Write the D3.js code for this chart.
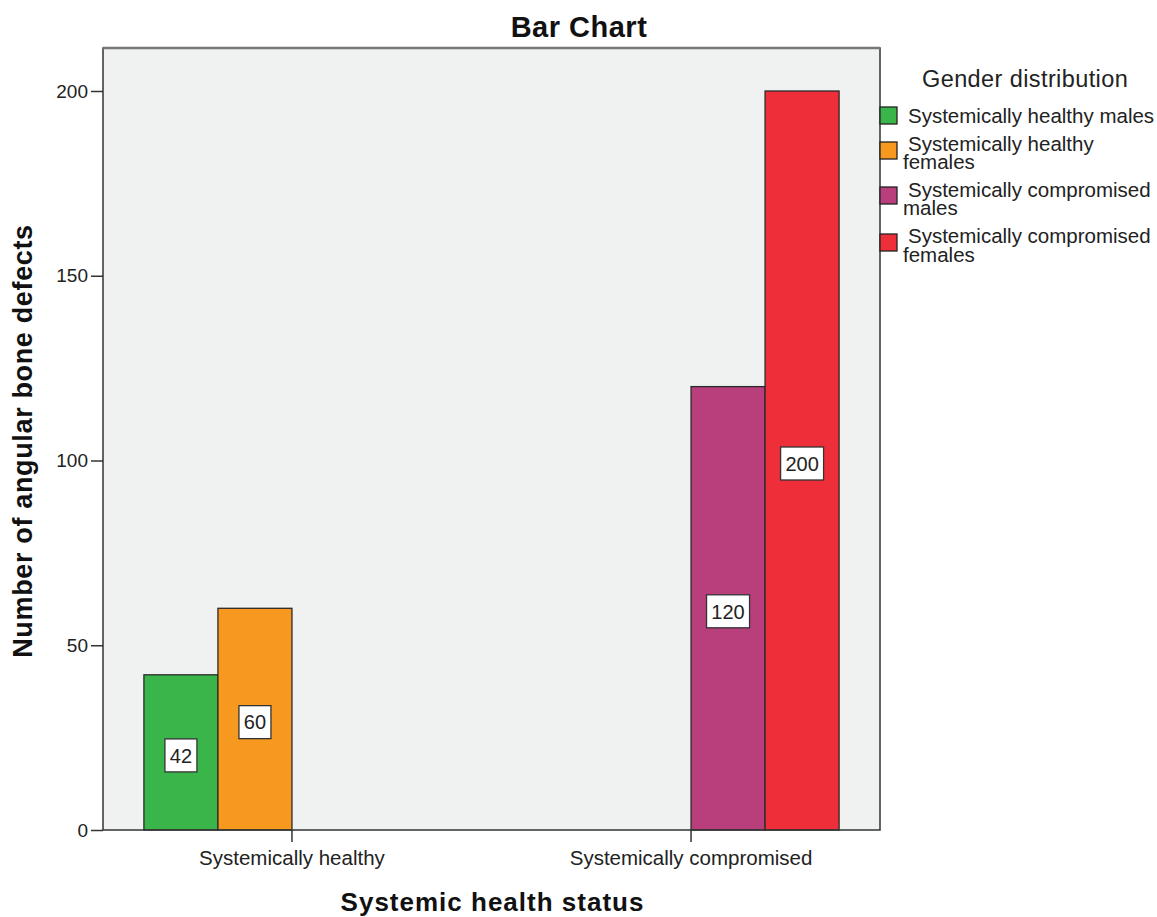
<!DOCTYPE html>
<html>
<head>
<meta charset="utf-8">
<script src="https://cdn.jsdelivr.net/npm/d3@7"></script>
<style>
  html, body { margin: 0; padding: 0; background: #fff; }
  text { font-family: "Liberation Sans", Arial, sans-serif; fill: #222; }
</style>
</head>
<body>
<svg id="chart" width="1157" height="917"></svg>
<script>
// Categories on the x axis
const categories = ["Systemically healthy", "Systemically compromised"];
// Legend groups (one slot per group inside each category)
const groups = [
  "Systemically healthy males",
  "Systemically healthy females",
  "Systemically compromised males",
  "Systemically compromised females"
];
// Legend labels as wrapped lines
const groupLines = [
  ["Systemically healthy males"],
  ["Systemically healthy", "females"],
  ["Systemically compromised", "males"],
  ["Systemically compromised", "females"]
];
const groupColors = ["#3ab54a", "#f7991f", "#b93e7c", "#ee2f39"];
// Counts: category, group, value
const barCategory = ["Systemically healthy", "Systemically healthy", "Systemically compromised", "Systemically compromised"];
const barGroup = ["Systemically healthy males", "Systemically healthy females", "Systemically compromised males", "Systemically compromised females"];
const barValue = [42, 60, 120, 200];
const yTicks = [0, 50, 100, 150, 200];

const FONT = "Liberation Sans, Arial, sans-serif";
const svg = d3.select("#chart");
const plot = { left: 103, top: 48, right: 880, bottom: 830 };

const x = d3.scaleBand().domain(categories)
  .range([plot.left, plot.right]).paddingInner(0.258).paddingOuter(0.1025);
const xSub = d3.scaleBand().domain(groups).range([0, x.bandwidth()]).padding(0);
const y = d3.scaleLinear().domain([0, 200]).range([plot.bottom, 91]);
const color = d3.scaleOrdinal().domain(groups).range(groupColors);

// Plot background
svg.append("rect")
  .attr("x", plot.left).attr("y", plot.top)
  .attr("width", plot.right - plot.left).attr("height", plot.bottom - plot.top)
  .attr("fill", "#f0f1f1");

// Bars
const bars = barValue.map((v, i) => ({ cat: barCategory[i], grp: barGroup[i], v }));
svg.append("g").selectAll("rect").data(bars).join("rect")
  .attr("x", d => x(d.cat) + xSub(d.grp))
  .attr("y", d => y(d.v))
  .attr("width", xSub.bandwidth())
  .attr("height", d => y(0) - y(d.v))
  .attr("fill", d => color(d.grp))
  .attr("stroke", "#2a2a2a").attr("stroke-width", 1.3);

// Value labels in boxes at mid-height of each bar
const lab = svg.append("g").selectAll("g").data(bars).join("g")
  .attr("transform", d => `translate(${x(d.cat) + xSub(d.grp) + xSub.bandwidth() / 2},${y(d.v / 2) + 3})`);
lab.append("rect")
  .attr("x", d => -(String(d.v).length * 11 + 10) / 2)
  .attr("y", -16.5)
  .attr("width", d => String(d.v).length * 11 + 10)
  .attr("height", 33)
  .attr("fill", "#fff").attr("stroke", "#333").attr("stroke-width", 1.3);
lab.append("text")
  .attr("text-anchor", "middle").attr("dy", "0.36em")
  .attr("font-size", 20)
  .text(d => d.v);

// Frame
svg.append("rect")
  .attr("x", plot.left).attr("y", plot.top)
  .attr("width", plot.right - plot.left).attr("height", plot.bottom - plot.top)
  .attr("fill", "none").attr("stroke", "#333").attr("stroke-width", 1.5);
svg.append("line")
  .attr("x1", plot.left).attr("x2", plot.right)
  .attr("y1", plot.top).attr("y2", plot.top)
  .attr("stroke", "#777").attr("stroke-width", 2.5);

// Y axis
const yAxis = svg.append("g")
  .attr("transform", `translate(${plot.left},0)`)
  .call(d3.axisLeft(y).tickValues(yTicks).tickSize(12).tickPadding(3).tickFormat(d3.format("d")));
yAxis.select(".domain").remove();
yAxis.selectAll("line").attr("stroke", "#333").attr("stroke-width", 1.5);
yAxis.selectAll("text").attr("font-size", 19).attr("fill", "#222")
  .style("font-family", FONT);

// X axis
const xAxis = svg.append("g")
  .attr("transform", `translate(0,${plot.bottom})`)
  .call(d3.axisBottom(x).tickSize(12).tickPadding(8));
xAxis.select(".domain").remove();
xAxis.selectAll("line").attr("stroke", "#333").attr("stroke-width", 1.5);
xAxis.selectAll("text").attr("font-size", 20.5).attr("fill", "#222")
  .style("font-family", FONT);

// Titles
svg.append("text")
  .attr("x", 579).attr("y", 37).attr("text-anchor", "middle")
  .attr("font-size", 29).attr("font-weight", "bold").attr("letter-spacing", 0.5)
  .style("fill", "#111")
  .text("Bar Chart");
svg.append("text")
  .attr("x", 492.5).attr("y", 911).attr("text-anchor", "middle")
  .attr("font-size", 26).attr("font-weight", "bold").attr("letter-spacing", 1)
  .style("fill", "#111")
  .text("Systemic health status");
svg.append("text")
  .attr("transform", `translate(32,441) rotate(-90)`)
  .attr("text-anchor", "middle")
  .attr("font-size", 27).attr("font-weight", "bold").attr("letter-spacing", 0.65)
  .style("fill", "#111")
  .text("Number of angular bone defects");

// Legend
const legend = svg.append("g");
legend.append("text")
  .attr("x", 922).attr("y", 87)
  .attr("font-size", 23.5).attr("letter-spacing", 0.4)
  .text("Gender distribution");
const swatchTop = [107, 142, 187, 234];
const lineBaselines = [[123], [151, 169], [197, 215], [243, 262]];
const items = legend.selectAll("g.item").data(groups).join("g")
  .attr("class", "item");
items.append("rect")
  .attr("x", 880).attr("y", (d, i) => swatchTop[i]).attr("width", 17).attr("height", 17)
  .attr("fill", d => color(d)).attr("stroke", "#222").attr("stroke-width", 1.3);
// Each legend label is one text element; wrapped lines are tspans
items.append("text")
  .attr("font-size", 20.5)
  .each(function (d, i) {
    const t = d3.select(this);
    groupLines[i].forEach((line, j) => {
      t.append("tspan")
        .attr("x", j === 0 ? 908 : 903)
        .attr("y", lineBaselines[i][j])
        .text(line);
    });
  });
</script>
</body>
</html>
